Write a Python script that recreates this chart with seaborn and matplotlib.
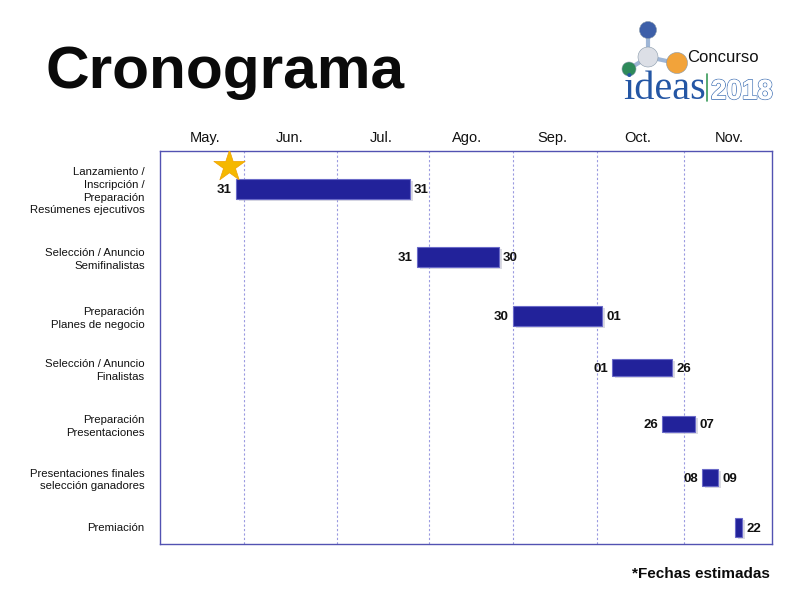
import matplotlib
matplotlib.use("Agg")
import matplotlib.pyplot as plt
import matplotlib.patheffects as pe
import seaborn as sns
import numpy as np
import pandas as pd
from matplotlib.patches import Circle

sns.set_theme(style="white")
plt.rcParams['font.family'] = ['Liberation Sans', 'DejaVu Sans']

# ---------------- data ----------------
tasks = [
    "Lanzamiento /\nInscripción /\nPreparación\nResúmenes ejecutivos",
    "Selección / Anuncio\nSemifinalistas",
    "Preparación\nPlanes de negocio",
    "Selección / Anuncio\nFinalistas",
    "Preparación\nPresentaciones",
    "Presentaciones finales\nselección ganadores",
    "Premiación",
]
# positions in month units (0 = start of May, 7 = end of Nov), as drawn
start = [0.869, 2.940, 4.038, 5.170, 5.742, 6.199, 6.577]
end = [2.859, 3.877, 5.056, 5.856, 6.119, 6.382, 6.657]
row_pos = [0.677, 1.888, 2.939, 3.865, 4.863, 5.816, 6.706]
bar_h = [0.356, 0.356, 0.356, 0.303, 0.285, 0.303, 0.338]
start_lbl = ["31", "31", "30", "01", "26", "08", ""]
end_lbl = ["31", "30", "01", "26", "07", "09", "22"]
months = ["May.", "Jun.", "Jul.", "Ago.", "Sep.", "Oct.", "Nov."]
month_center = [0.515, 1.487, 2.528, 3.511, 4.484, 5.467, 6.508]
month_bound = [0.961, 2.024, 3.077, 4.038, 4.998, 5.993]
star_x, star_y = [0.789], [0.267]

df = pd.DataFrame({"task": tasks, "start": start, "end": end, "row": row_pos, "h": bar_h})
df["dur"] = df["end"] - df["start"]

# ---------------- figure ----------------
fig = plt.figure(figsize=(8, 6), dpi=100)
ax = fig.add_axes([160 / 800, 1 - 544 / 600, 612 / 800, 393 / 600])

frame_col = "#5252b2"
for s in ax.spines.values():
    s.set_color(frame_col)
    s.set_linewidth(1.0)

for b in month_bound:
    ax.axvline(b, color="#9a9ae0", lw=0.8, ls=(0, (2, 2)), zorder=0)

# shadow + bars
ax.barh(df["row"] + 0.03, df["dur"], left=df["start"] + 0.03, height=df["h"],
        color="#b8b8c8", alpha=0.5, zorder=1, linewidth=0)
ax.barh(df["row"], df["dur"], left=df["start"], height=df["h"],
        color="#22229a", edgecolor="#6a6ac8", linewidth=0.8, zorder=2)

sns.scatterplot(x=star_x, y=star_y, marker="*", s=560, color="#f5b800",
                edgecolor="#f0a000", linewidth=0.5, ax=ax, zorder=3, legend=False)

for i, r in df.iterrows():
    if start_lbl[i]:
        ax.annotate(start_lbl[i], (r["start"], r["row"]), xytext=(-3, -1),
                    textcoords="offset points", ha="right", va="center",
                    fontsize=9.5, fontweight="bold", color="#111111")
    if end_lbl[i]:
        ax.annotate(end_lbl[i], (r["end"], r["row"]), xytext=(3, -1),
                    textcoords="offset points", ha="left", va="center",
                    fontsize=9.5, fontweight="bold", color="#111111")

ax.set_xlim(0, 7)
ax.set_ylim(7, 0)
ax.xaxis.tick_top()
ax.set_xticks(month_center)
ax.set_xticklabels(months, fontsize=10.5, color="#111111")
ax.set_yticks(row_pos)
ax.set_yticklabels(tasks, fontsize=8.2, color="#111111", linespacing=1.32)
ax.tick_params(axis="both", length=0)
ax.tick_params(axis="x", pad=4)
ax.tick_params(axis="y", pad=11)
ax.set_xlabel("")
ax.set_ylabel("")

# title and footnote
fig.text(45 / 800, 1 - 72 / 600, "Cronograma", fontsize=43.5, fontweight="bold",
         ha="left", va="center", color="#0a0a0a")
fig.text(770 / 800, 1 - 574 / 600, "*Fechas estimadas", fontsize=11, fontweight="bold",
         ha="right", va="center", color="#0a0a0a")

# logo
lg = fig.add_axes([600 / 800, 1 - 110 / 600, 200 / 800, 100 / 600])
lg.set_xlim(600, 800)
lg.set_ylim(110, 10)
lg.set_aspect("equal")
lg.axis("off")
stick = "#9fb6d6"
lg.plot([648, 648], [30, 57], color=stick, lw=3, zorder=1)
lg.plot([648, 676], [57, 63], color=stick, lw=3, zorder=1)
lg.plot([648, 629], [57, 69], color=stick, lw=3, zorder=1)
for (cx, cy, r, c) in [(648, 30, 8.5, "#3d5fa8"), (648, 57, 10, "#dcdfe6"),
                       (677, 63, 10.5, "#f2a33a"), (629, 69, 7, "#2e8a5a")]:
    lg.add_patch(Circle((cx, cy), r, facecolor=c, edgecolor="#8899aa", lw=0.4, zorder=2))
lg.text(687, 58, "Concurso", fontsize=12, ha="left", va="center", color="#111111")
lg.text(623, 99, "ideas", fontsize=29, ha="left", va="baseline", color="#2456a4",
        family=["Liberation Serif", "DejaVu Serif"])
lg.plot([707, 707], [74, 101], color="#3a9a5a", lw=1.2)
t2018 = lg.text(711, 99, "2018", fontsize=20, ha="left", va="baseline", color="white",
                fontweight="bold", family=["Liberation Sans", "DejaVu Sans"])
t2018.set_path_effects([pe.withStroke(linewidth=1.2, foreground="#4a78b8"), pe.Normal()])

fig.savefig("out.png", dpi=100)
